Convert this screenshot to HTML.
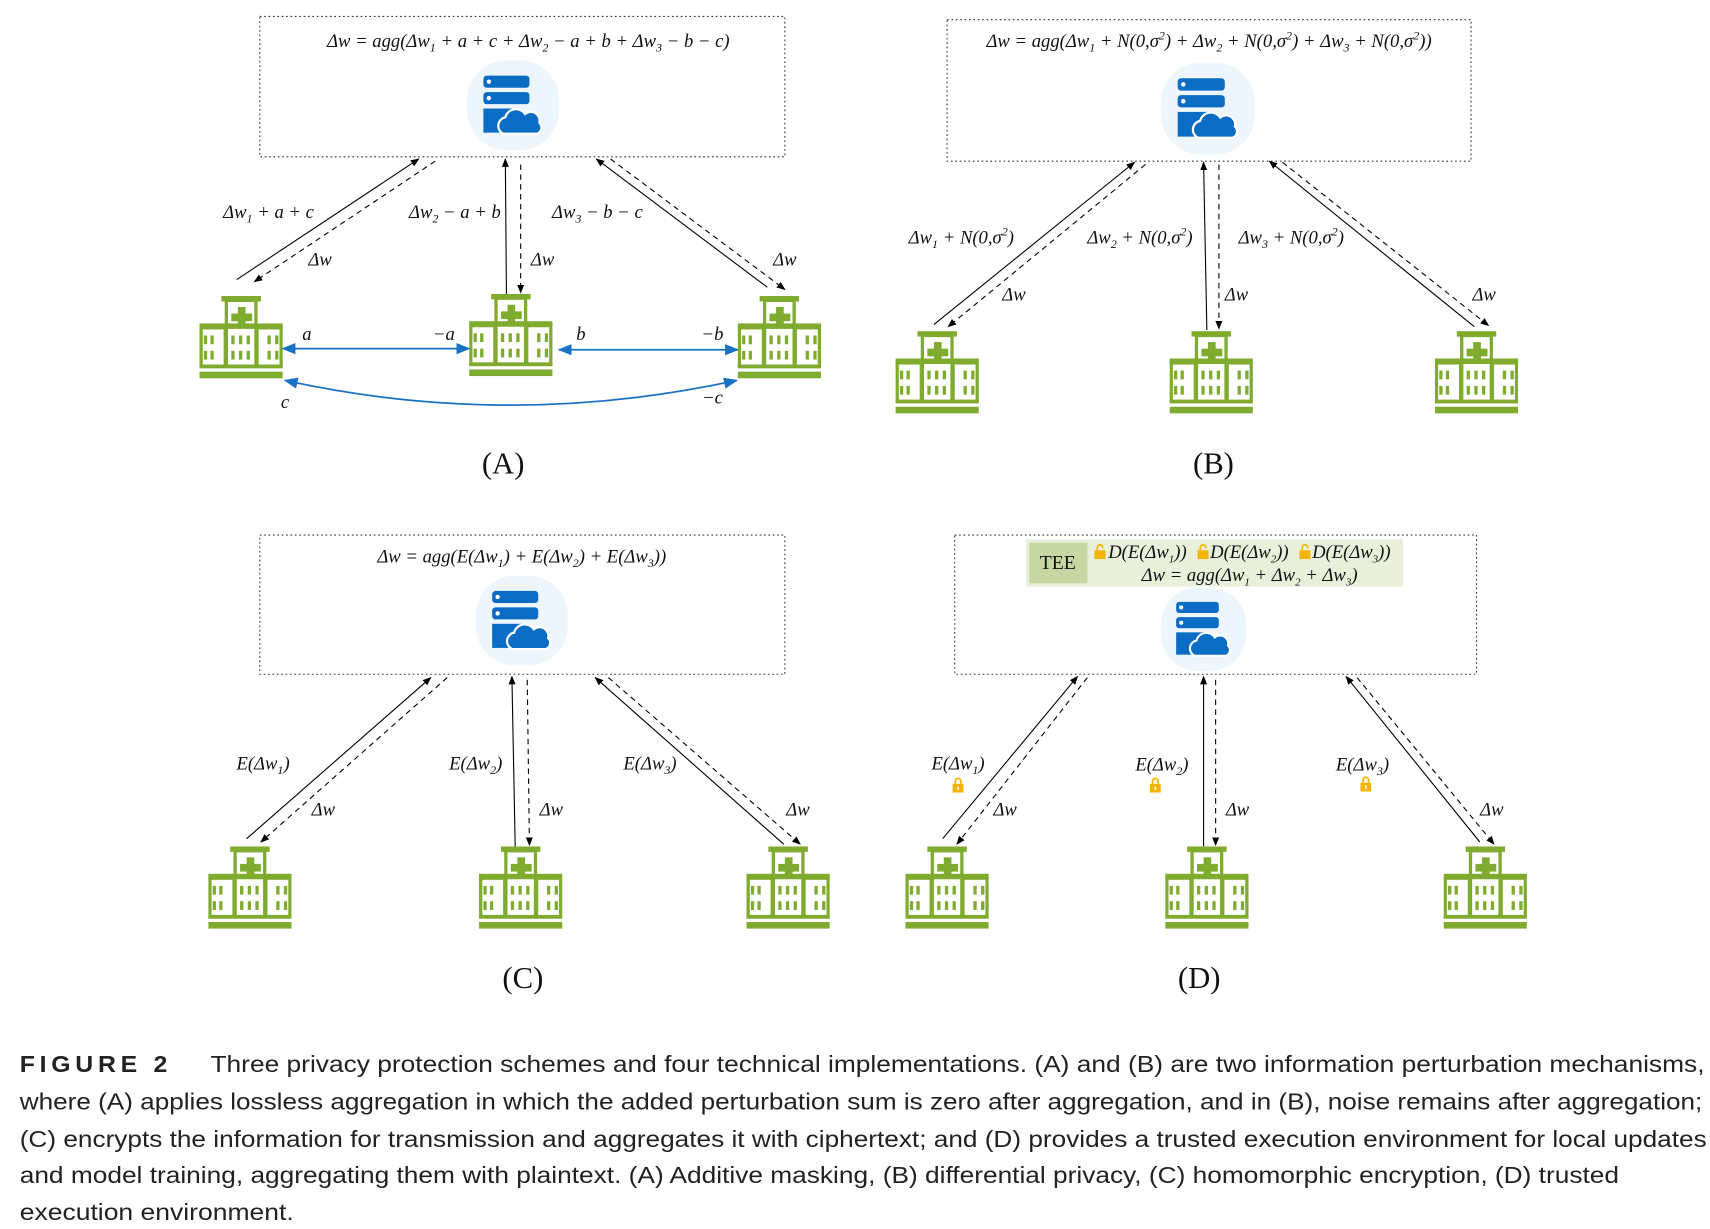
<!DOCTYPE html>
<html><head><meta charset="utf-8"><style>
html,body{margin:0;padding:0;background:#fff;}
svg{display:block;}
.m{font-family:"Liberation Serif",serif;font-style:italic;font-size:17px;fill:#111;}
.p{font-family:"Liberation Serif",serif;font-size:28px;fill:#111;}
.c{font-family:"Liberation Sans",sans-serif;font-size:21px;fill:#222;}
</style></head><body>
<svg width="1710" height="1229" viewBox="0 0 1560 1121" preserveAspectRatio="none" xmlns="http://www.w3.org/2000/svg">
<defs>
<marker id="ah" viewBox="0 0 10 10" refX="9" refY="5" markerWidth="8" markerHeight="8" orient="auto"><path d="M0,1 L10,5 L0,9 z" fill="#000"/></marker>
<marker id="bh" viewBox="0 0 10 10" refX="9" refY="5" markerWidth="8" markerHeight="8" orient="auto-start-reverse"><path d="M0,1 L10,5 L0,9 z" fill="#1a72c4"/></marker>
<symbol id="hosp" viewBox="0 0 76 76">
<g fill="#7fab2f">
<rect x="20" y="0" width="36" height="5"/>
<rect x="0" y="25" width="76" height="5"/>
<rect x="0" y="63" width="76" height="3"/>
<rect x="0" y="69" width="76" height="6"/>
<rect x="35" y="10" width="7" height="19"/><rect x="29" y="16" width="19" height="7"/>
<rect x="4" y="36" width="3" height="8"/><rect x="10" y="36" width="3" height="8"/><rect x="4" y="50" width="3" height="8"/><rect x="10" y="50" width="3" height="8"/>
<rect x="29" y="36" width="3" height="8"/><rect x="36" y="36" width="3" height="8"/><rect x="43" y="36" width="3" height="8"/><rect x="29" y="50" width="3" height="8"/><rect x="36" y="50" width="3" height="8"/><rect x="43" y="50" width="3" height="8"/>
<rect x="62" y="36" width="3" height="8"/><rect x="69" y="36" width="3" height="8"/><rect x="62" y="50" width="3" height="8"/><rect x="69" y="50" width="3" height="8"/>
</g>
<g fill="none" stroke="#7fab2f" stroke-width="3">
<rect x="24.5" y="4" width="27" height="60"/>
<rect x="1.5" y="29" width="22" height="35"/>
<rect x="52.5" y="29" width="22" height="35"/>
</g>
</symbol>
<symbol id="srv" viewBox="0 0 84 82">
<rect x="0" y="0" width="84" height="82" rx="36" fill="#eef6fd"/>
<rect x="15" y="14" width="42" height="11" rx="3" fill="#0a6cc2"/><circle cx="20" cy="19.5" r="2" fill="#fff"/>
<rect x="15" y="29" width="42" height="11" rx="3" fill="#0a6cc2"/><circle cx="20" cy="34.5" r="2" fill="#fff"/>
<rect x="15" y="44" width="30" height="22" fill="#0a6cc2"/>
<path d="M33 67 a8 8 0 0 1 2-15 a10 10 0 0 1 18-3 a8 8 0 0 1 13 8 a6 6 0 0 1 -2 10 z" fill="#0a6cc2" stroke="#fff" stroke-width="2"/>
</symbol>
<symbol id="lock" viewBox="0 0 10 14">
<path d="M2.5 6 V3.5 a2.5 2.5 0 0 1 5 0 V6" fill="none" stroke="#f5b400" stroke-width="1.6"/>
<rect x="0" y="6" width="10" height="8" fill="#f5b400"/><rect x="4.3" y="8.5" width="1.4" height="3" fill="#fff"/>
</symbol>
<symbol id="olock" viewBox="0 0 10 14">
<path d="M2.5 6 V3.5 a2.5 2.5 0 0 1 5 0 V4" fill="none" stroke="#f5b400" stroke-width="1.6"/>
<rect x="0" y="6" width="10" height="8" fill="#f5b400"/>
</symbol>
</defs>

<!-- boxes -->
<g fill="none" stroke="#333" stroke-width="1" stroke-dasharray="1.5,2.5">
<rect x="237" y="15" width="479" height="128"/>
<rect x="864" y="18" width="478" height="129"/>
<rect x="237" y="488" width="479" height="127"/>
<rect x="871" y="488" width="476" height="127"/>
</g>

<!-- servers -->
<use href="#srv" x="426" y="55" width="84" height="82"/>
<use href="#srv" x="1059" y="57" width="86" height="84"/>
<use href="#srv" x="434" y="525" width="84" height="82"/>
<use href="#srv" x="1058" y="536" width="80" height="76"/>

<!-- hospitals -->
<use href="#hosp" x="182" y="270" width="76" height="76"/>
<use href="#hosp" x="428" y="268" width="76" height="76"/>
<use href="#hosp" x="673" y="270" width="76" height="76"/>
<use href="#hosp" x="817" y="302" width="76" height="76"/>
<use href="#hosp" x="1067" y="302" width="76" height="76"/>
<use href="#hosp" x="1309" y="302" width="76" height="76"/>
<use href="#hosp" x="190" y="772" width="76" height="76"/>
<use href="#hosp" x="437" y="772" width="76" height="76"/>
<use href="#hosp" x="681" y="772" width="76" height="76"/>
<use href="#hosp" x="826" y="772" width="76" height="76"/>
<use href="#hosp" x="1063" y="772" width="76" height="76"/>
<use href="#hosp" x="1317" y="772" width="76" height="76"/>

<!-- arrows -->
<g stroke="#000" stroke-width="1" fill="none" marker-end="url(#ah)">
<line x1="216" y1="255" x2="382" y2="145"/>
<line x1="397" y1="147" x2="232" y2="257" stroke-dasharray="5,4"/>
<line x1="462" y1="268" x2="461" y2="145"/>
<line x1="475" y1="150" x2="475" y2="267" stroke-dasharray="5,4"/>
<line x1="700" y1="262" x2="544" y2="145"/>
<line x1="557" y1="145" x2="716" y2="264" stroke-dasharray="5,4"/>

<line x1="852" y1="296" x2="1035" y2="148"/>
<line x1="1045" y1="150" x2="865" y2="298" stroke-dasharray="5,4"/>
<line x1="1101" y1="301" x2="1098" y2="148"/>
<line x1="1112" y1="150" x2="1112" y2="300" stroke-dasharray="5,4"/>
<line x1="1345" y1="298" x2="1158" y2="147"/>
<line x1="1170" y1="148" x2="1358" y2="297" stroke-dasharray="5,4"/>

<line x1="225" y1="765" x2="393" y2="618"/>
<line x1="408" y1="618" x2="238" y2="768" stroke-dasharray="5,4"/>
<line x1="470" y1="772" x2="467" y2="617"/>
<line x1="481" y1="620" x2="483" y2="771" stroke-dasharray="5,4"/>
<line x1="715" y1="770" x2="543" y2="618"/>
<line x1="555" y1="618" x2="730" y2="770" stroke-dasharray="5,4"/>

<line x1="860" y1="765" x2="983" y2="617"/>
<line x1="992" y1="618" x2="873" y2="770" stroke-dasharray="5,4"/>
<line x1="1098" y1="772" x2="1098" y2="617"/>
<line x1="1109" y1="620" x2="1109" y2="771" stroke-dasharray="5,4"/>
<line x1="1350" y1="768" x2="1228" y2="617"/>
<line x1="1238" y1="618" x2="1363" y2="770" stroke-dasharray="5,4"/>
</g>

<!-- blue arrows A -->
<g stroke="#1a72c4" stroke-width="1.6" fill="none" marker-start="url(#bh)" marker-end="url(#bh)">
<line x1="258" y1="318" x2="428" y2="318"/>
<line x1="510" y1="319" x2="673" y2="319"/>
<path d="M260 347 Q465 392 672 347"/>
</g>

<!-- formulas -->
<text class="m" x="482" y="43" text-anchor="middle">Δw = agg(Δw<tspan font-size="11" dy="4">1</tspan><tspan dy="-4"> + a + c + Δw</tspan><tspan font-size="11" dy="4">2</tspan><tspan dy="-4"> − a + b + Δw</tspan><tspan font-size="11" dy="4">3</tspan><tspan dy="-4"> − b − c)</tspan></text>
<text class="m" x="1103" y="43" text-anchor="middle">Δw = agg(Δw<tspan font-size="11" dy="4">1</tspan><tspan dy="-4"> + N(0,σ</tspan><tspan font-size="11" dy="-7">2</tspan><tspan dy="7">) + Δw</tspan><tspan font-size="11" dy="4">2</tspan><tspan dy="-4"> + N(0,σ</tspan><tspan font-size="11" dy="-7">2</tspan><tspan dy="7">) + Δw</tspan><tspan font-size="11" dy="4">3</tspan><tspan dy="-4"> + N(0,σ</tspan><tspan font-size="11" dy="-7">2</tspan><tspan dy="7">))</tspan></text>
<text class="m" x="476" y="513" text-anchor="middle">Δw = agg(E(Δw<tspan font-size="11" dy="4">1</tspan><tspan dy="-4">) + E(Δw</tspan><tspan font-size="11" dy="4">2</tspan><tspan dy="-4">) + E(Δw</tspan><tspan font-size="11" dy="4">3</tspan><tspan dy="-4">))</tspan></text>

<!-- TEE -->
<rect x="936" y="492" width="344" height="43" fill="#e8f0dc"/>
<rect x="939" y="495" width="53" height="37" fill="#c5d8a4"/>
<text x="965" y="519" text-anchor="middle" font-family="Liberation Serif,serif" font-size="18" fill="#111">TEE</text>
<use href="#olock" x="998" y="496" width="11" height="14"/>
<use href="#olock" x="1092" y="496" width="11" height="14"/>
<use href="#olock" x="1185" y="496" width="11" height="14"/>
<text class="m" x="1011" y="509" font-size="16">D(E(Δw<tspan font-size="10" dy="4">1</tspan><tspan dy="-4">))</tspan></text>
<text class="m" x="1104" y="509" font-size="16">D(E(Δw<tspan font-size="10" dy="4">2</tspan><tspan dy="-4">))</tspan></text>
<text class="m" x="1197" y="509" font-size="16">D(E(Δw<tspan font-size="10" dy="4">3</tspan><tspan dy="-4">))</tspan></text>
<text class="m" x="1140" y="530" text-anchor="middle" font-size="16">Δw = agg(Δw<tspan font-size="10" dy="4">1</tspan><tspan dy="-4"> + Δw</tspan><tspan font-size="10" dy="4">2</tspan><tspan dy="-4"> + Δw</tspan><tspan font-size="10" dy="4">3</tspan><tspan dy="-4">)</tspan></text>

<!-- labels A -->
<text class="m" x="245" y="199" text-anchor="middle">Δw<tspan font-size="11" dy="4">1</tspan><tspan dy="-4"> + a + c</tspan></text>
<text class="m" x="292" y="242" text-anchor="middle">Δw</text>
<text class="m" x="415" y="199" text-anchor="middle">Δw<tspan font-size="11" dy="4">2</tspan><tspan dy="-4"> − a + b</tspan></text>
<text class="m" x="495" y="242" text-anchor="middle">Δw</text>
<text class="m" x="545" y="199" text-anchor="middle">Δw<tspan font-size="11" dy="4">3</tspan><tspan dy="-4"> − b − c</tspan></text>
<text class="m" x="716" y="242" text-anchor="middle">Δw</text>
<text class="m" x="280" y="310" text-anchor="middle">a</text>
<text class="m" x="405" y="310" text-anchor="middle">−a</text>
<text class="m" x="530" y="310" text-anchor="middle">b</text>
<text class="m" x="650" y="310" text-anchor="middle">−b</text>
<text class="m" x="260" y="372" text-anchor="middle">c</text>
<text class="m" x="650" y="368" text-anchor="middle">−c</text>

<!-- labels B -->
<text class="m" x="877" y="222" text-anchor="middle">Δw<tspan font-size="11" dy="4">1</tspan><tspan dy="-4"> + N(0,σ</tspan><tspan font-size="11" dy="-7">2</tspan><tspan dy="7">)</tspan></text>
<text class="m" x="925" y="274" text-anchor="middle">Δw</text>
<text class="m" x="1040" y="222" text-anchor="middle">Δw<tspan font-size="11" dy="4">2</tspan><tspan dy="-4"> + N(0,σ</tspan><tspan font-size="11" dy="-7">2</tspan><tspan dy="7">)</tspan></text>
<text class="m" x="1128" y="274" text-anchor="middle">Δw</text>
<text class="m" x="1178" y="222" text-anchor="middle">Δw<tspan font-size="11" dy="4">3</tspan><tspan dy="-4"> + N(0,σ</tspan><tspan font-size="11" dy="-7">2</tspan><tspan dy="7">)</tspan></text>
<text class="m" x="1354" y="274" text-anchor="middle">Δw</text>

<!-- labels C -->
<text class="m" x="240" y="702" text-anchor="middle">E(Δw<tspan font-size="11" dy="4">1</tspan><tspan dy="-4">)</tspan></text>
<text class="m" x="295" y="744" text-anchor="middle">Δw</text>
<text class="m" x="434" y="702" text-anchor="middle">E(Δw<tspan font-size="11" dy="4">2</tspan><tspan dy="-4">)</tspan></text>
<text class="m" x="503" y="744" text-anchor="middle">Δw</text>
<text class="m" x="593" y="702" text-anchor="middle">E(Δw<tspan font-size="11" dy="4">3</tspan><tspan dy="-4">)</tspan></text>
<text class="m" x="728" y="744" text-anchor="middle">Δw</text>

<!-- labels D -->
<text class="m" x="874" y="702" text-anchor="middle">E(Δw<tspan font-size="11" dy="4">1</tspan><tspan dy="-4">)</tspan></text>
<use href="#lock" x="869" y="709" width="10" height="14"/>
<text class="m" x="917" y="744" text-anchor="middle">Δw</text>
<text class="m" x="1060" y="703" text-anchor="middle">E(Δw<tspan font-size="11" dy="4">2</tspan><tspan dy="-4">)</tspan></text>
<use href="#lock" x="1049" y="709" width="10" height="14"/>
<text class="m" x="1129" y="744" text-anchor="middle">Δw</text>
<text class="m" x="1243" y="703" text-anchor="middle">E(Δw<tspan font-size="11" dy="4">3</tspan><tspan dy="-4">)</tspan></text>
<use href="#lock" x="1241" y="708" width="10" height="14"/>
<text class="m" x="1361" y="744" text-anchor="middle">Δw</text>

<!-- panel labels -->
<text class="p" x="459" y="432" text-anchor="middle">(A)</text>
<text class="p" x="1107" y="432" text-anchor="middle">(B)</text>
<text class="p" x="477" y="901" text-anchor="middle">(C)</text>
<text class="p" x="1094" y="901" text-anchor="middle">(D)</text>

<!-- caption -->
<text class="c" x="18" y="978" font-weight="bold" fill="#555" letter-spacing="4" textLength="139" lengthAdjust="spacingAndGlyphs">FIGURE 2</text>
<text class="c" x="192" y="978" textLength="1363" lengthAdjust="spacingAndGlyphs">Three privacy protection schemes and four technical implementations. (A) and (B) are two information perturbation mechanisms,</text>
<text class="c" x="18" y="1012" textLength="1535" lengthAdjust="spacingAndGlyphs">where (A) applies lossless aggregation in which the added perturbation sum is zero after aggregation, and in (B), noise remains after aggregation;</text>
<text class="c" x="18" y="1046" textLength="1539" lengthAdjust="spacingAndGlyphs">(C) encrypts the information for transmission and aggregates it with ciphertext; and (D) provides a trusted execution environment for local updates</text>
<text class="c" x="18" y="1079" textLength="1459" lengthAdjust="spacingAndGlyphs">and model training, aggregating them with plaintext. (A) Additive masking, (B) differential privacy, (C) homomorphic encryption, (D) trusted</text>
<text class="c" x="18" y="1113" textLength="250" lengthAdjust="spacingAndGlyphs">execution environment.</text>
</svg>
</body></html>
